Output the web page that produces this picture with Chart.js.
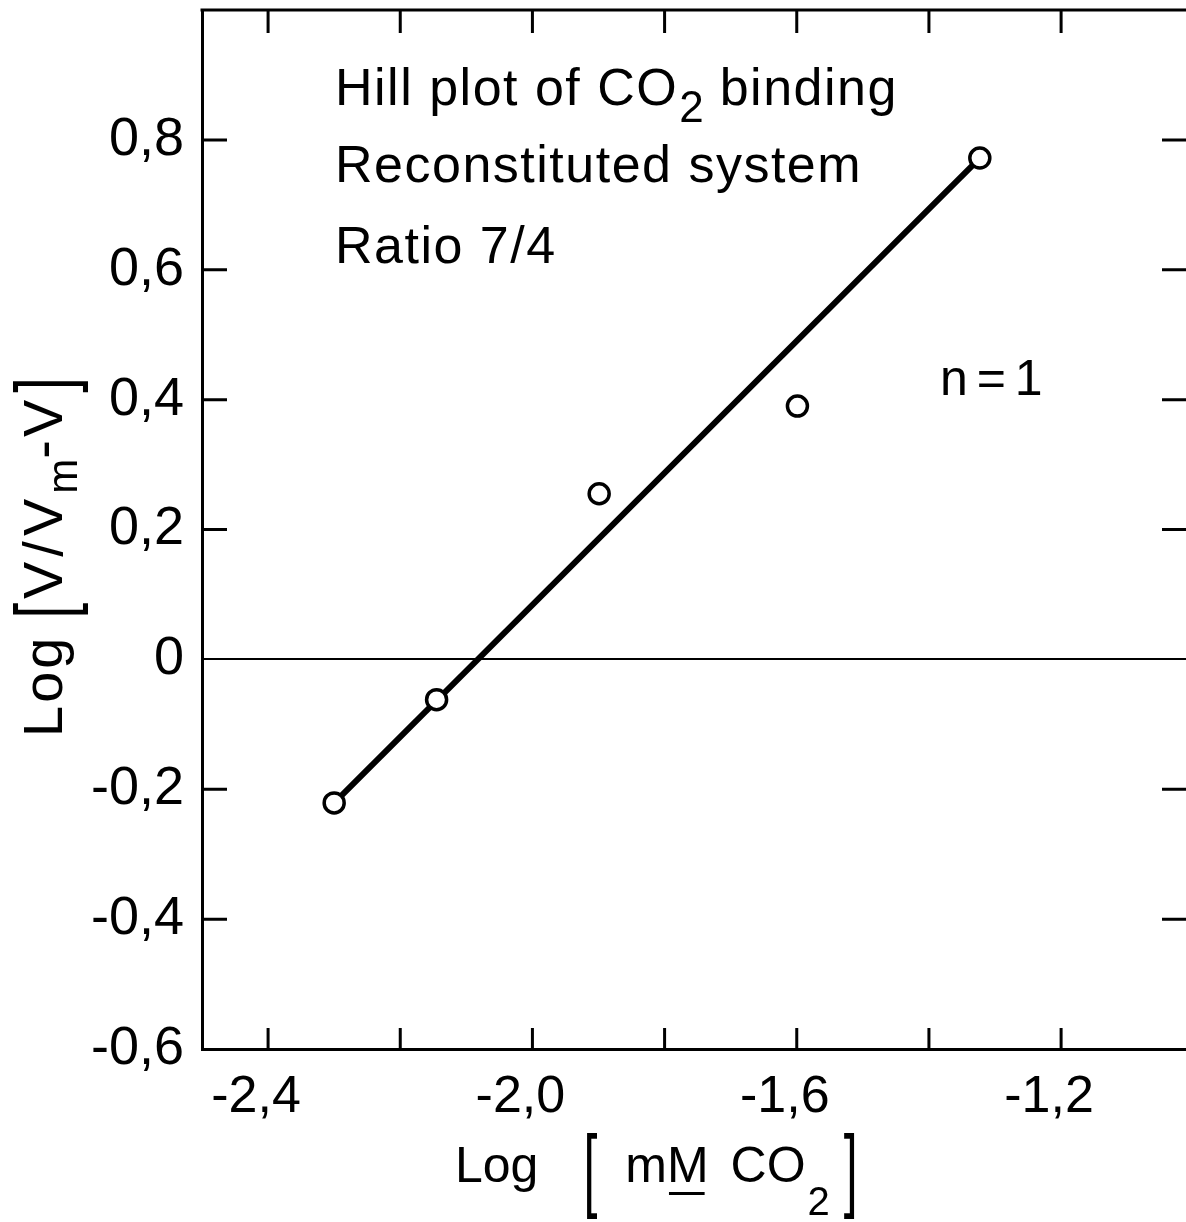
<!DOCTYPE html>
<html><head><meta charset="utf-8">
<script src="https://cdn.jsdelivr.net/npm/chart.js@4.4.1/dist/chart.umd.min.js"></script>
<style>html,body{margin:0;padding:0;background:#fff;overflow:hidden}#wrap{width:1186px;height:1222px}</style>
</head><body><div id="wrap"><canvas id="c" width="1186" height="1222"></canvas></div>
<script>
// ---- data ----
const logCO2 = [-2.300, -2.145, -1.899, -1.599, -1.323];
const logHill = [-0.221, -0.062, 0.255, 0.390, 0.772];
const fitX = [-2.300, -1.323];
const fitY = [-0.221, 0.772];
const xTickValues = [-2.4, -2.2, -2.0, -1.8, -1.6, -1.4, -1.2];
const xTickLabels = ['-2,4', '', '-2,0', '', '-1,6', '', '-1,2'];
const yTickValues = [-0.6, -0.4, -0.2, 0, 0.2, 0.4, 0.6, 0.8];
const yTickLabels = ['-0,6', '-0,4', '-0,2', '0', '0,2', '0,4', '0,6', '0,8'];
const xRange = [-2.5, -1.011];
const yRange = [-0.6, 1.0];

const FAM = '"Liberation Sans", Arial, sans-serif';
const INK = '#000';

function drawRich(ctx, x, y, segs) {
  for (const s of segs) {
    x += (s.gapBefore || 0);
    ctx.save();
    ctx.font = s.size + 'px ' + FAM;
    ctx.letterSpacing = (s.ls || 0) + 'px';
    ctx.fillStyle = INK;
    ctx.textBaseline = 'alphabetic';
    ctx.textAlign = 'left';
    const w = ctx.measureText(s.t).width;
    const sy = s.sy || 1;
    let dy = s.dy || 0;
    if (s.sy) dy = (s.center || 0) + 0.26 * s.size * sy;
    ctx.translate(x, y + dy);
    ctx.scale(1, sy);
    ctx.fillText(s.t, 0, 0);
    ctx.restore();
    if (s.underline) {
      ctx.fillStyle = INK;
      ctx.fillRect(x + 2, y + 10, w - 6, 3);
    }
    x += w + (s.gapAfter || 0);
  }
  return x;
}

const framePlugin = {
  id: 'frame',
  afterDraw(chart) {
    const ctx = chart.ctx;
    const a = chart.chartArea;
    const xs = chart.scales.x, ys = chart.scales.y;
    ctx.save();
    ctx.strokeStyle = INK;
    ctx.lineWidth = 3;
    ctx.lineCap = 'butt';
    // top frame line
    ctx.beginPath(); ctx.moveTo(a.left - 1.5, a.top); ctx.lineTo(a.right, a.top); ctx.stroke();
    // inward ticks
    ctx.beginPath();
    for (const v of xTickValues) {
      const px = xs.getPixelForValue(v);
      ctx.moveTo(px, a.bottom); ctx.lineTo(px, a.bottom - 21);
      ctx.moveTo(px, a.top); ctx.lineTo(px, a.top + 23);
    }
    for (const v of yTickValues) {
      if (v === yRange[0] || v === 0) continue;
      const py = ys.getPixelForValue(v);
      ctx.moveTo(a.left, py); ctx.lineTo(a.left + 25, py);
      ctx.moveTo(a.right, py); ctx.lineTo(a.right - 24, py);
    }
    ctx.stroke();
    ctx.restore();

    // annotations
    ctx.save();
    drawRich(ctx, 335, 105, [
      {t: 'Hill plot of CO', size: 52, ls: 1.5},
      {t: '2', size: 44, dy: 17, gapBefore: 1},
      {t: ' binding', size: 52, ls: 1.5}
    ]);
    drawRich(ctx, 335, 182, [{t: 'Reconstituted system', size: 52, ls: 1.5}]);
    drawRich(ctx, 335, 263, [{t: 'Ratio 7/4', size: 52, ls: 1.5}]);
    drawRich(ctx, 940, 395, [{t: 'n = 1', size: 50, ls: -2.5}]);

    // x-axis title
    drawRich(ctx, 455, 1182, [
      {t: 'Log', size: 50},
      {t: '[', size: 50, sy: 1.85, center: -6, gapBefore: 45, gapAfter: 28},
      {t: 'm', size: 50},
      {t: 'M', size: 50, underline: true},
      {t: 'CO', size: 50, gapBefore: 22},
      {t: '2', size: 40, dy: 33, gapBefore: 2},
      {t: ']', size: 50, sy: 1.85, center: -6, gapBefore: 14}
    ]);

    // y-axis title (rotated)
    ctx.translate(62, 737);
    ctx.rotate(-Math.PI / 2);
    drawRich(ctx, 0, 0, [
      {t: 'Log', size: 56, ls: 3},
      {t: '[', size: 56, sy: 1.43, center: -12, gapBefore: 16, gapAfter: 4},
      {t: 'V/V', size: 56, ls: 5},
      {t: 'm', size: 42, dy: 15},
      {t: '-V', size: 56, ls: 3},
      {t: ']', size: 56, sy: 1.43, center: -12, gapBefore: 4}
    ]);
    ctx.restore();
  }
};

new Chart(document.getElementById('c'), {
  type: 'scatter',
  data: {
    datasets: [
      {
        label: 'fit',
        type: 'line',
        data: fitX.map((x, i) => ({x: x, y: fitY[i]})),
        borderColor: INK,
        borderWidth: 6,
        pointRadius: 0,
        fill: false,
        tension: 0,
        order: 2
      },
      {
        label: 'data',
        data: logCO2.map((x, i) => ({x: x, y: logHill[i]})),
        pointStyle: 'circle',
        pointRadius: 10,
        pointBorderWidth: 3.5,
        borderColor: INK,
        backgroundColor: '#fff',
        pointBackgroundColor: '#fff',
        pointBorderColor: INK,
        order: 1
      }
    ]
  },
  options: {
    responsive: false,
    animation: false,
    devicePixelRatio: 1,
    layout: {autoPadding: false, padding: {top: 10, left: 0, right: 0, bottom: 0}},
    plugins: {legend: {display: false}, tooltip: {enabled: false}},
    scales: {
      x: {
        type: 'linear',
        min: xRange[0], max: xRange[1],
        afterBuildTicks: s => { s.ticks = xTickValues.map(v => ({value: v})); },
        afterFit: s => { s.height = 173; s.paddingLeft = 0; s.paddingRight = 0; },
        ticks: {
          callback: (v, i) => xTickLabels[i],
          font: {family: FAM, size: 52},
          color: INK,
          padding: 17,
          labelOffset: -12,
          maxRotation: 0,
          autoSkip: false
        },
        grid: {display: false, drawTicks: false},
        border: {display: true, color: INK, width: 3}
      },
      y: {
        type: 'linear',
        min: yRange[0], max: yRange[1],
        afterBuildTicks: s => { s.ticks = yTickValues.map(v => ({value: v})); },
        afterFit: s => { s.width = 202; s.paddingTop = 0; s.paddingBottom = 0; },
        ticks: {
          callback: (v, i) => yTickLabels[i],
          font: {family: FAM, size: 54},
          color: INK,
          padding: 18,
          autoSkip: false
        },
        grid: {
          display: true,
          drawTicks: false,
          color: c => (c.tick && c.tick.value === 0) ? INK : 'rgba(0,0,0,0)',
          lineWidth: c => (c.tick && c.tick.value === 0) ? 2 : 0
        },
        border: {display: true, color: INK, width: 3}
      }
    }
  },
  plugins: [framePlugin]
});
</script>
</body></html>
